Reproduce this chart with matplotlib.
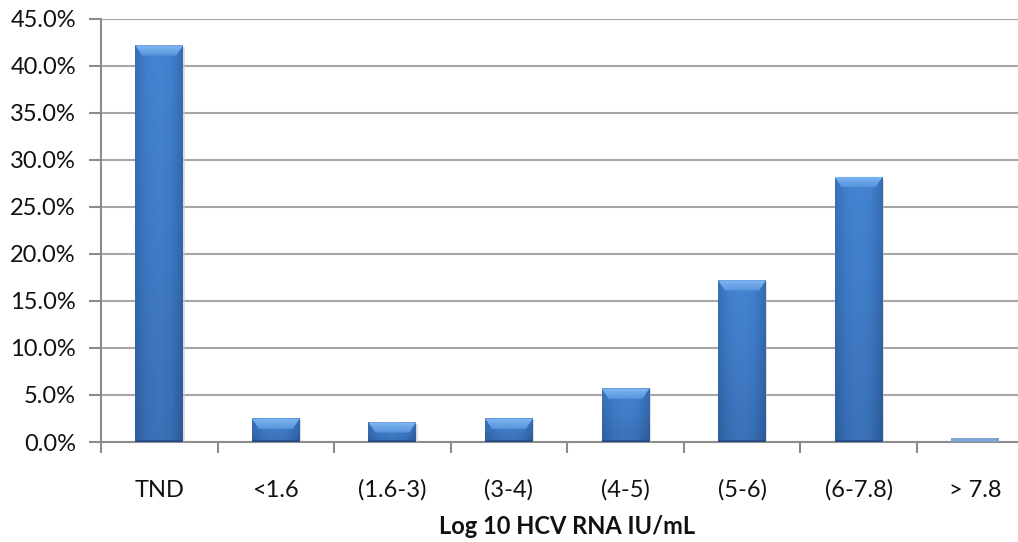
import matplotlib.pyplot as plt
import numpy as np
from matplotlib.patches import Polygon, Rectangle
from matplotlib.colors import LinearSegmentedColormap

categories = ["TND", "<1.6", "(1.6-3)", "(3-4)", "(4-5)", "(5-6)", "(6-7.8)", "> 7.8"]
percent = [42.2, 2.5, 2.1, 2.5, 5.7, 17.2, 28.2, 0.4]
yticks = [0, 5, 10, 15, 20, 25, 30, 35, 40, 45]

plt.rcParams["font.family"] = ["Lato", "DejaVu Sans"]

fig = plt.figure(figsize=(10.18, 5.42), dpi=100)
# plot area runs past the right edge of the canvas
ax = fig.add_axes([0.0992, 0.1845, 0.916, 0.7805])

bar_w = 0.41
x = np.arange(len(categories))
bars = ax.bar(x, percent, width=bar_w, color="#3b72bd", zorder=3, linewidth=0)

body = LinearSegmentedColormap.from_list("body", ["#4283d0", "#3b72bb", "#2e5d9d"])
sides = LinearSegmentedColormap.from_list("sides", ["#2f609f", "#4180cc", "#4a88d4", "#4180cc", "#2a5794"])
bevel = LinearSegmentedColormap.from_list("bevel", ["#82b8f2", "#5593db"])

for rect, v in zip(bars, percent):
    x0, w = rect.get_x(), rect.get_width()
    if v < 1:
        rect.set_facecolor("#7ea4d4")
        continue
    # vertical shading, darker toward the base
    grad = np.linspace(0, 1, 64).reshape(-1, 1)
    im = ax.imshow(grad, cmap=body, aspect="auto", extent=[x0, x0 + w, 0, v],
                   zorder=3.1, origin="upper")
    im.set_clip_path(rect)
    # side edges
    hgrad = np.linspace(0, 1, 64).reshape(1, -1)
    im2 = ax.imshow(hgrad, cmap=sides, aspect="auto", extent=[x0, x0 + w, 0, v],
                    zorder=3.2, alpha=0.5)
    im2.set_clip_path(rect)
    # bevel on top
    bh = 1.1
    bw = 0.06
    top = Polygon([[x0, v], [x0 + w, v], [x0 + w - bw, v - bh], [x0 + bw, v - bh]],
                  closed=True, facecolor="none", edgecolor="none", zorder=3.3)
    ax.add_patch(top)
    im3 = ax.imshow(grad, cmap=bevel, aspect="auto", extent=[x0, x0 + w, v - bh, v],
                    zorder=3.3, origin="upper")
    im3.set_clip_path(top)
    ax.add_patch(Rectangle((x0, 0), w, 0.22, facecolor="#264f8a",
                           edgecolor="none", zorder=3.3))
    ax.add_patch(Rectangle((x0 + w, 0), 0.012, v - 0.2, facecolor="#c8c8c8",
                           edgecolor="none", zorder=2.9, alpha=0.6))

ax.set_xlim(-0.5, len(categories) - 0.5)
ax.set_ylim(0, 45)
ax.set_yticks(yticks)
ax.set_yticklabels([f"{t:.1f}%" for t in yticks])
ax.yaxis.grid(True, color="#a6a6a6", linewidth=1.5, zorder=0)
ax.set_axisbelow(True)

ax.set_xticks(np.arange(-0.5, len(categories)))
ax.set_xticklabels([])
ax.set_xticks(x, minor=True)
ax.set_xticklabels(categories, minor=True)
ax.tick_params(axis="x", which="major", length=8, width=1.5, color="#8c8c8c", direction="out")
ax.tick_params(axis="x", which="minor", length=0, pad=27, labelsize=17, labelcolor="#111111")
ax.tick_params(axis="y", length=9, width=1.5, color="#8c8c8c", pad=9,
               labelsize=17, labelcolor="#111111")

for s in ["top", "right"]:
    ax.spines[s].set_visible(False)
ax.spines["left"].set_color("#8c8c8c")
ax.spines["bottom"].set_color("#8c8c8c")
ax.spines["left"].set_linewidth(1.5)
ax.spines["bottom"].set_linewidth(1.5)

ax.set_xlabel("Log 10 HCV RNA IU/mL", fontsize=17, fontweight="bold",
              color="#111111", labelpad=10)

fig.savefig("out.png", dpi=100)
